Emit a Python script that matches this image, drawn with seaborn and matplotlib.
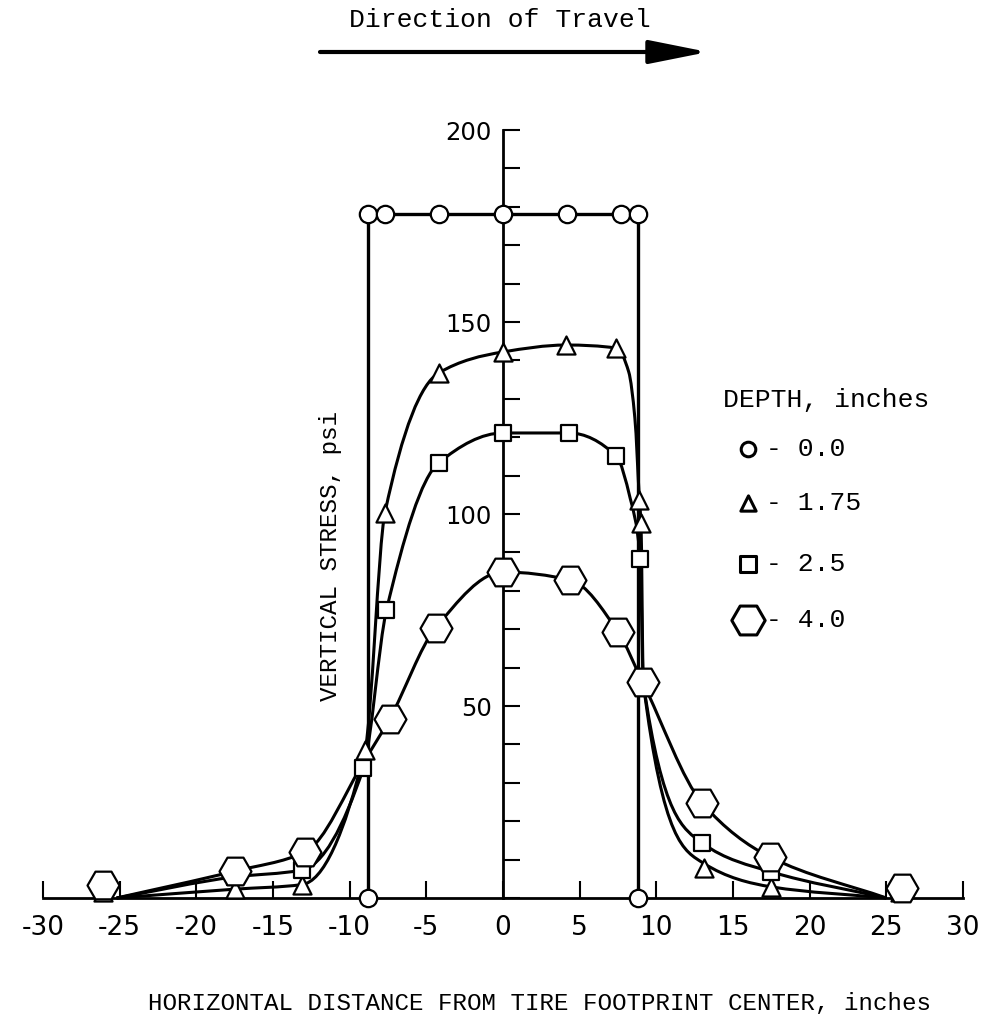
import numpy as np
import matplotlib
matplotlib.use("Agg")
import matplotlib.pyplot as plt
from matplotlib.path import Path
from matplotlib.patches import PathPatch
from matplotlib.ticker import MultipleLocator
import seaborn as sns

sns.set_theme(style="white")
plt.rcParams["font.family"] = ["Liberation Mono", "DejaVu Sans"]

# ---- measured vertical stress (psi) vs. horizontal distance (in) ----
# depth 0.0 in: uniform contact pressure under the footprint
d00_x = [-8.8, -8.8, -7.7, -4.2, 0.0, 4.2, 7.7, 8.8, 8.8]
d00_y = [0.0, 178.0, 178.0, 178.0, 178.0, 178.0, 178.0, 178.0, 0.0]

# depth 1.75 in
d175_x = [-26.1, -17.5, -13.1, -9.0, -7.7, -4.2, 0.0, 4.1, 7.4, 8.9, 9.0, 13.1, 17.5, 25.9]
d175_y = [1.6, 2.3, 3.5, 38.5, 100.3, 136.7, 142.2, 144.0, 143.2, 103.6, 97.6, 7.8, 2.9, 1.6]
# faired curve through the 1.75 in readings
d175_cx = [-25.2, -17.5, -13.1, -9.0, -7.7, -4.2, 0.0, 4.1, 7.4, 8.2, 8.6, 8.9, 9.0, 9.15, 13.1, 17.5, 25.0]
d175_cy = [0.0, 2.3, 3.5, 38.5, 100.3, 136.7, 142.2, 144.0, 143.2, 137.0, 125.0, 103.6, 97.6, 56.0, 9.0, 2.9, 0.0]

# depth 2.5 in
d25_x = [-26.1, -17.5, -13.1, -9.1, -7.6, -4.2, 0.0, 4.3, 7.4, 8.95, 13.0, 17.5, 25.9]
d25_y = [2.6, 5.5, 7.3, 33.8, 75.0, 113.3, 121.1, 121.1, 115.0, 88.3, 14.3, 6.8, 2.6]
d25_cx = [-25.2, -17.5, -13.1, -9.1, -7.6, -4.2, 0.0, 4.3, 7.4, 8.3, 8.95, 9.15, 13.0, 17.5, 25.0]
d25_cy = [0.0, 5.5, 7.3, 33.8, 75.0, 113.3, 121.1, 121.1, 115.0, 104.0, 88.3, 56.0, 14.3, 6.8, 0.0]

# depth 4.0 in
d40_x = [-26.1, -17.5, -12.9, -7.4, -4.4, 0.0, 4.4, 7.5, 9.1, 13.0, 17.4, 26.0]
d40_y = [3.4, 7.0, 12.0, 46.6, 70.3, 84.9, 82.8, 69.3, 56.3, 24.7, 10.7, 2.6]
d40_cx = [-25.2, -17.5, -12.9, -9.0, -7.4, -4.4, 0.0, 4.4, 7.5, 9.1, 13.0, 17.4, 25.0]
d40_cy = [0.0, 7.0, 12.0, 36.0, 46.6, 70.3, 84.9, 82.8, 69.3, 56.3, 24.7, 10.7, 0.0]

x_ticks = list(range(-30, 31, 5))
x_tick_labels = [str(v) for v in x_ticks]
y_ticks = [50, 100, 150, 200]
y_tick_labels = [str(v) for v in y_ticks]

legend_labels = ["- 0.0", "- 1.75", "- 2.5", "- 4.0"]


def faired_path(xs, ys):
    """Monotone cubic (Fritsch-Carlson) curve through the knots, as Bezier segments."""
    x = np.asarray(xs, float)
    y = np.asarray(ys, float)
    h = np.diff(x)
    d = np.diff(y) / h
    m = np.zeros_like(x)
    m[0], m[-1] = d[0], d[-1]
    for k in range(1, len(x) - 1):
        if d[k - 1] * d[k] <= 0:
            m[k] = 0.0
        else:
            w1 = 2 * h[k] + h[k - 1]
            w2 = h[k] + 2 * h[k - 1]
            m[k] = (w1 + w2) / (w1 / d[k - 1] + w2 / d[k])
    verts = [(x[0], y[0])]
    codes = [Path.MOVETO]
    for k in range(len(h)):
        verts += [(x[k] + h[k] / 3, y[k] + m[k] * h[k] / 3),
                  (x[k + 1] - h[k] / 3, y[k + 1] - m[k + 1] * h[k] / 3),
                  (x[k + 1], y[k + 1])]
        codes += [Path.CURVE4] * 3
    return Path(verts, codes)


W, H = 985, 1021
fig = plt.figure(figsize=(W / 100, H / 100), dpi=100)
fig.patch.set_facecolor("white")
ax = fig.add_axes([43 / W, (H - 898) / H, 920 / W, 768 / H])
ax.set_facecolor("white")

# footprint (depth 0.0) outline
sns.lineplot(x=d00_x, y=d00_y, sort=False, estimator=None, ax=ax,
             color="black", linewidth=2.4, zorder=2)

# faired curves for the deeper readings
for cx, cy in [(d175_cx, d175_cy), (d25_cx, d25_cy), (d40_cx, d40_cy)]:
    ax.add_patch(PathPatch(faired_path(cx, cy), facecolor="none",
                           edgecolor="black", linewidth=2.2, zorder=2,
                           clip_on=False))

# data markers
marker_specs = [
    (d00_x, d00_y, "o", 12.5),
    (d175_x, d175_y, "^", 13.0),
    (d25_x, d25_y, "s", 11.5),
    (d40_x, d40_y, "H", 23.0),
]
for mx, my, mk, ms in marker_specs:
    sns.scatterplot(x=mx, y=my, marker=mk, s=ms ** 2, color="white",
                    edgecolor="black", linewidth=1.6, ax=ax, zorder=5,
                    clip_on=False, legend=False)

ax.set_xlim(-30, 30)
ax.set_ylim(0, 200)
ax.set_xlabel("")
ax.set_ylabel("")
for side in ["top", "right"]:
    ax.spines[side].set_visible(False)
ax.spines["left"].set_position(("data", 0))
ax.spines["left"].set_bounds(0, 200)
for side in ["left", "bottom"]:
    ax.spines[side].set_color("black")
    ax.spines[side].set_linewidth(2.0)

ax.set_xticks(x_ticks)
ax.set_xticklabels(x_tick_labels, family=["DejaVu Sans"])
ax.set_yticks(y_ticks)
ax.set_yticklabels(y_tick_labels, family=["DejaVu Sans"])
ax.yaxis.set_minor_locator(MultipleLocator(10))
ax.tick_params(axis="x", direction="in", length=12, width=1.5,
               colors="black", labelsize=19, pad=12, bottom=True)
ax.tick_params(axis="y", which="both", direction="in", length=12, width=1.5,
               colors="black", labelsize=17.5, pad=8, left=True)
ax.grid(False)

# legend, drawn by hand
fig.text(723 / W, 1 - 400 / H, "DEPTH, inches", ha="left", va="center",
         fontsize=19, color="black")
leg_y = [449, 503, 564, 620]
leg_mk = [("o", 10.5), ("^", 11), ("s", 12), ("H", 24)]
for yy, (mk, ms), lab in zip(leg_y, leg_mk, legend_labels):
    ax.scatter([748 / W], [1 - yy / H], marker=mk, s=ms ** 2, facecolor="white",
               edgecolor="black", linewidth=2.2, transform=fig.transFigure,
               clip_on=False, zorder=6)
    fig.text(766 / W, 1 - yy / H, lab, ha="left", va="center", fontsize=19,
             color="black")

# axis titles
fig.text(539 / W, 1 - 1003 / H,
         "HORIZONTAL DISTANCE FROM TIRE FOOTPRINT CENTER, inches",
         ha="center", va="center", fontsize=17.4, color="black")
fig.text(330 / W, 1 - 556 / H, "VERTICAL STRESS, psi", rotation=90,
         ha="center", va="center", fontsize=17.5, color="black")

# direction of travel
fig.text(500 / W, 1 - 20 / H, "Direction of Travel", ha="center", va="center",
         fontsize=19, color="black")
ax.annotate("", xy=(708 / W, 1 - 52 / H), xytext=(320 / W, 1 - 52 / H),
            xycoords="figure fraction", textcoords="figure fraction",
            arrowprops=dict(arrowstyle="-|>,head_length=0.4,head_width=0.08",
                            mutation_scale=90, lw=3, color="black",
                            shrinkA=0, shrinkB=0))

fig.savefig("out.png", dpi=100, facecolor="white")
